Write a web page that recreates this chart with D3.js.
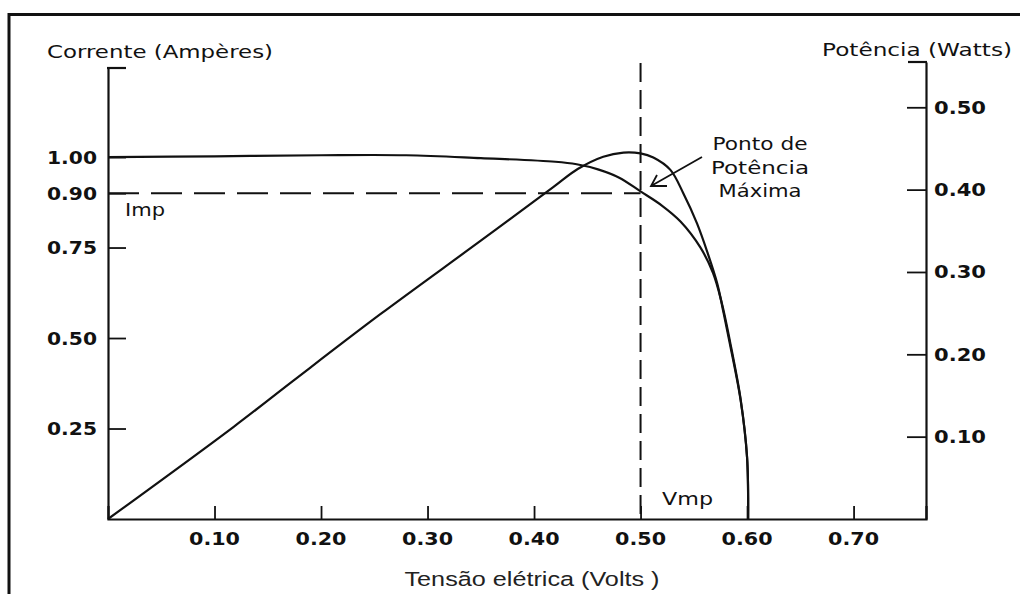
<!DOCTYPE html>
<html>
<head>
<meta charset="utf-8">
<script src="https://cdn.jsdelivr.net/npm/d3@7"></script>
<style>
  html, body { margin: 0; padding: 0; background: #fff; }
  svg { display: block; }
</style>
</head>
<body>
<svg id="chart" width="1020" height="594"></svg>
<script>
// ---- Data ----
const currentV = [0, 0.10, 0.20, 0.28, 0.35, 0.42, 0.44, 0.46, 0.48, 0.50, 0.52, 0.5375, 0.556, 0.568, 0.576, 0.584, 0.594, 0.600, 0.601];
const currentI = [1.00, 1.002, 1.005, 1.005, 0.997, 0.987, 0.980, 0.966, 0.943, 0.905, 0.866, 0.822, 0.751, 0.68, 0.60, 0.49, 0.33, 0.17, 0.0];

const powerV = [0, 0.118, 0.175, 0.256, 0.35, 0.418, 0.441, 0.465, 0.484, 0.50, 0.512, 0.528, 0.54, 0.553, 0.563, 0.572, 0.578, 0.584, 0.594, 0.600, 0.601];
const powerP = [0, 0.112, 0.169, 0.249, 0.338, 0.403, 0.425, 0.440, 0.445, 0.444, 0.439, 0.424, 0.396, 0.359, 0.323, 0.286, 0.250, 0.212, 0.144, 0.075, 0];

const xTicks = [0.10, 0.20, 0.30, 0.40, 0.50, 0.60, 0.70];
const leftTicks = [0.25, 0.50, 0.75, 0.90, 1.00];
const rightTicks = [0.10, 0.20, 0.30, 0.40, 0.50];

const Vmp = 0.50;
const Imp = 0.90;

const leftTitle = "Corrente (Ampères)";
const rightTitle = "Potência (Watts)";
const xTitle = "Tensão elétrica (Volts )";
const annotLines = ["Ponto de", "Potência", "Máxima"];

// ---- Layout ----
const svg = d3.select("#chart");
const x0 = 108, x1 = 926, yB = 519;
const x = d3.scaleLinear().domain([0, 0.768]).range([x0, x1]);
const yL = d3.scaleLinear().domain([0, 1.246]).range([yB, 68]);
const yR = d3.scaleLinear().domain([0, 0.555]).range([yB, 62]);

svg.append("rect").attr("width", 1020).attr("height", 594).attr("fill", "#fff");

// outer frame (cropped on right and bottom)
svg.append("rect")
  .attr("x", 9).attr("y", 14.5).attr("width", 1040).attr("height", 620)
  .attr("fill", "none").attr("stroke", "#111").attr("stroke-width", 3);

const numFont = "'DejaVu Sans', sans-serif";

// bottom axis
const gx = svg.append("g").attr("transform", `translate(0,${yB})`)
  .call(d3.axisTop(x).tickValues(xTicks).tickSize(13).tickFormat(""));
gx.select(".domain").attr("stroke", "#111").attr("stroke-width", 2.2);
gx.selectAll(".tick line").attr("stroke", "#111").attr("stroke-width", 1.8);
svg.append("g").selectAll("text").data(xTicks).join("text")
  .attr("x", d => x(d)).attr("y", 545)
  .attr("text-anchor", "middle")
  .attr("font-family", numFont).attr("font-weight", "bold").attr("font-size", 17)
  .attr("textLength", 51).attr("lengthAdjust", "spacingAndGlyphs")
  .attr("fill", "#111")
  .text(d => d3.format(".2f")(d));

// left axis
const gl = svg.append("g").attr("transform", `translate(${x0},0)`)
  .call(d3.axisRight(yL).tickValues(leftTicks).tickSize(18).tickFormat("").tickSizeOuter(0));
gl.select(".domain").attr("stroke", "#111").attr("stroke-width", 2.2);
gl.selectAll(".tick line").attr("stroke", "#111").attr("stroke-width", 1.8);
svg.append("line").attr("x1", x0 - 1).attr("x2", x0 + 18).attr("y1", yL(1.246)).attr("y2", yL(1.246))
  .attr("stroke", "#111").attr("stroke-width", 2.2);
svg.append("g").selectAll("text").data(leftTicks).join("text")
  .attr("x", 97).attr("y", d => yL(d) + 6.5)
  .attr("text-anchor", "end")
  .attr("font-family", numFont).attr("font-weight", "bold").attr("font-size", 17)
  .attr("textLength", 50).attr("lengthAdjust", "spacingAndGlyphs")
  .attr("fill", "#111")
  .text(d => d3.format(".2f")(d));

// right axis
const gr = svg.append("g").attr("transform", `translate(${x1},0)`)
  .call(d3.axisLeft(yR).tickValues(rightTicks).tickSize(19).tickFormat("").tickSizeOuter(0));
gr.select(".domain").attr("stroke", "#111").attr("stroke-width", 2.2);
gr.selectAll(".tick line").attr("stroke", "#111").attr("stroke-width", 1.8);
svg.append("line").attr("x1", x1 + 1).attr("x2", x1 - 18).attr("y1", yR(0.555)).attr("y2", yR(0.555))
  .attr("stroke", "#111").attr("stroke-width", 2.2);
svg.append("g").selectAll("text").data(rightTicks).join("text")
  .attr("x", 934).attr("y", d => yR(d) + 6.5)
  .attr("text-anchor", "start")
  .attr("font-family", numFont).attr("font-weight", "bold").attr("font-size", 17)
  .attr("textLength", 52).attr("lengthAdjust", "spacingAndGlyphs")
  .attr("fill", "#111")
  .text(d => d3.format(".2f")(d));

// dashed reference lines
svg.append("line")
  .attr("x1", x0).attr("x2", x(Vmp)).attr("y1", yL(Imp)).attr("y2", yL(Imp))
  .attr("stroke", "#111").attr("stroke-width", 2).attr("stroke-dasharray", "31,12");
svg.append("line")
  .attr("x1", x(Vmp)).attr("x2", x(Vmp)).attr("y1", 63).attr("y2", yB)
  .attr("stroke", "#111").attr("stroke-width", 2).attr("stroke-dasharray", "19,8");

// curves
const currentData = currentV.map((v, i) => [v, currentI[i]]);
const powerData = powerV.map((v, i) => [v, powerP[i]]);
svg.append("path")
  .attr("d", d3.line().x(d => x(d[0])).y(d => yL(d[1])).curve(d3.curveCatmullRom.alpha(0.5))(currentData))
  .attr("fill", "none").attr("stroke", "#111").attr("stroke-width", 2.2);
svg.append("path")
  .attr("d", d3.line().x(d => x(d[0])).y(d => yR(d[1])).curve(d3.curveCatmullRom.alpha(0.5))(powerData))
  .attr("fill", "none").attr("stroke", "#111").attr("stroke-width", 2.2);

// titles
const titleFont = "'DejaVu Sans', sans-serif";
svg.append("text").attr("x", 47).attr("y", 58)
  .attr("font-family", titleFont).attr("font-size", 18)
  .attr("textLength", 226).attr("lengthAdjust", "spacingAndGlyphs")
  .attr("fill", "#111").text(leftTitle);
svg.append("text").attr("x", 822).attr("y", 56)
  .attr("font-family", titleFont).attr("font-size", 18)
  .attr("textLength", 190).attr("lengthAdjust", "spacingAndGlyphs")
  .attr("fill", "#111").text(rightTitle);
svg.append("text").attr("x", 532).attr("y", 586)
  .attr("text-anchor", "middle")
  .attr("font-family", "'Liberation Sans', Arial, sans-serif").attr("font-size", 20.5)
  .attr("textLength", 255).attr("lengthAdjust", "spacingAndGlyphs")
  .attr("fill", "#222").text(xTitle);

// Imp / Vmp labels
svg.append("text").attr("x", 125).attr("y", 216)
  .attr("font-family", titleFont).attr("font-size", 17)
  .attr("textLength", 40).attr("lengthAdjust", "spacingAndGlyphs")
  .attr("fill", "#111").text("Imp");
svg.append("text").attr("x", 662).attr("y", 505)
  .attr("font-family", titleFont).attr("font-size", 17)
  .attr("textLength", 51).attr("lengthAdjust", "spacingAndGlyphs")
  .attr("fill", "#111").text("Vmp");

// annotation
const annotY = [150, 174, 197];
const annotW = [95, 98, 83];
svg.append("g").selectAll("text").data(annotLines).join("text")
  .attr("x", 760).attr("y", (d, i) => annotY[i])
  .attr("text-anchor", "middle")
  .attr("font-family", titleFont).attr("font-size", 17)
  .attr("textLength", (d, i) => annotW[i]).attr("lengthAdjust", "spacingAndGlyphs")
  .attr("fill", "#111").text(d => d);

// arrow
svg.append("path")
  .attr("d", "M702,157 L651,186 M657,175 L651,186 L667,186")
  .attr("fill", "none").attr("stroke", "#111").attr("stroke-width", 1.8);
</script>
</body>
</html>
